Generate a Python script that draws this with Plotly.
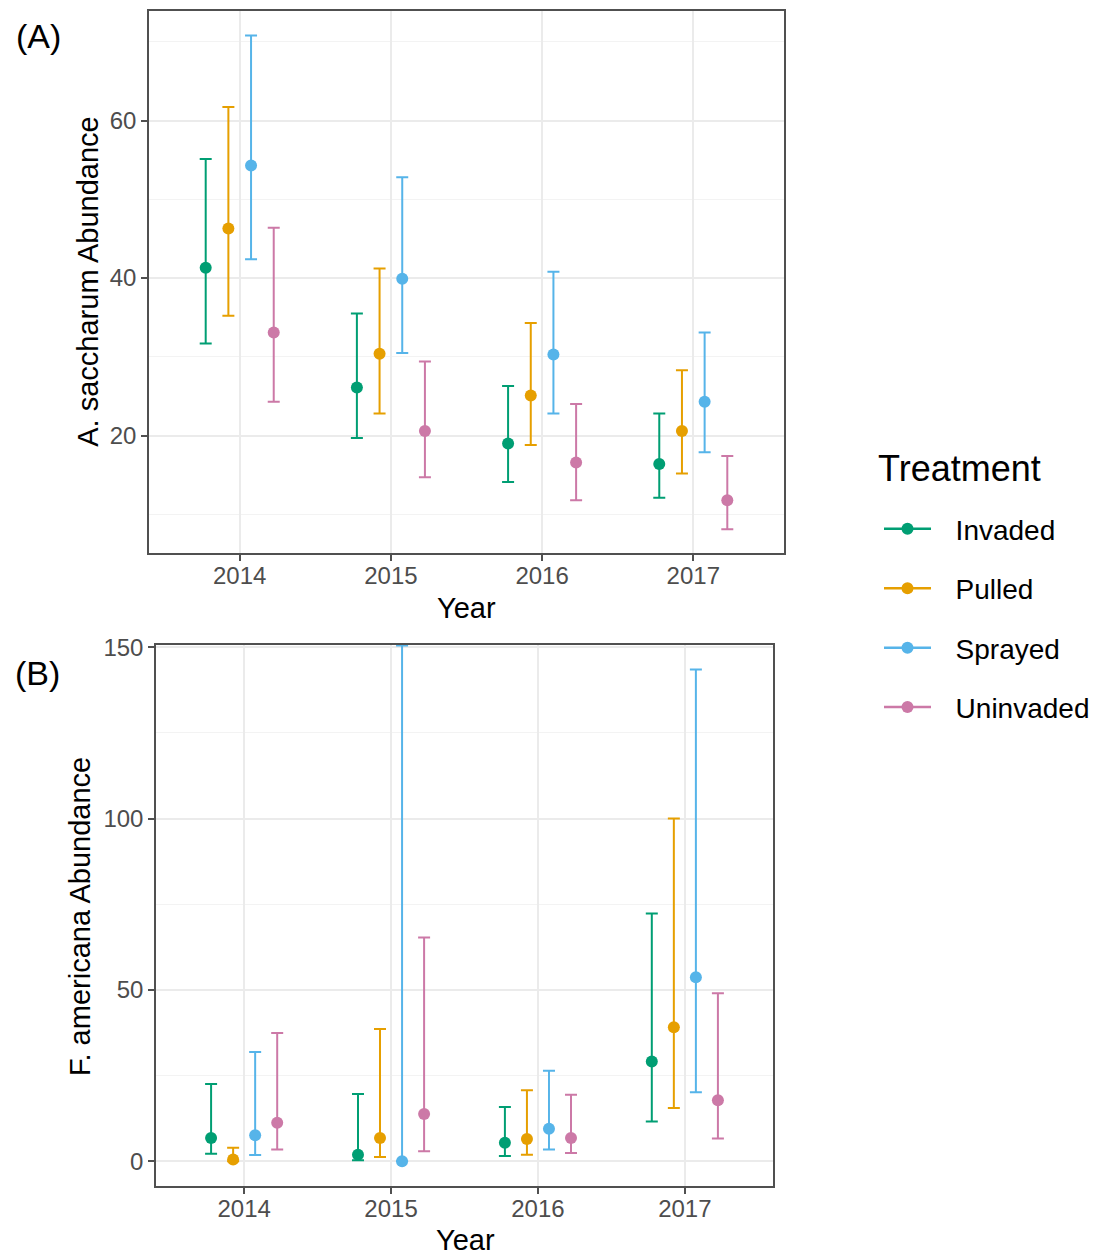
import plotly.graph_objects as go

# ---- data -------------------------------------------------------------
years = [2014, 2015, 2016, 2017]
treatments = ["Invaded", "Pulled", "Sprayed", "Uninvaded"]
colors = {"Invaded": "#009E73", "Pulled": "#E69F00",
          "Sprayed": "#56B4E9", "Uninvaded": "#CC79A7"}

# A. saccharum abundance: mean and interval bounds
acer_mean = {"Invaded": [41.3, 26.1, 19.0, 16.4], "Pulled": [46.3, 30.4, 25.1, 20.6],
             "Sprayed": [54.3, 39.9, 30.3, 24.3], "Uninvaded": [33.1, 20.6, 16.6, 11.8]}
acer_lo = {"Invaded": [31.7, 19.7, 14.1, 12.1], "Pulled": [35.2, 22.8, 18.8, 15.2],
           "Sprayed": [42.4, 30.5, 22.8, 17.9], "Uninvaded": [24.3, 14.7, 11.8, 8.1]}
acer_hi = {"Invaded": [55.1, 35.5, 26.3, 22.8], "Pulled": [61.7, 41.2, 34.3, 28.3],
           "Sprayed": [70.8, 52.8, 40.8, 33.1], "Uninvaded": [46.4, 29.4, 24.0, 17.4]}

# F. americana abundance: mean and interval bounds
frax_mean = {"Invaded": [6.8, 1.9, 5.4, 29.1], "Pulled": [0.5, 6.8, 6.5, 39.1],
             "Sprayed": [7.6, 0.0, 9.5, 53.7], "Uninvaded": [11.2, 13.8, 6.8, 17.8]}
frax_lo = {"Invaded": [2.2, 0.3, 1.5, 11.6], "Pulled": [0.0, 1.2, 1.9, 15.5],
           "Sprayed": [1.8, 0.0, 3.4, 20.1], "Uninvaded": [3.4, 2.9, 2.4, 6.6]}
frax_hi = {"Invaded": [22.5, 19.6, 15.8, 72.3], "Pulled": [3.9, 38.6, 20.7, 100.0],
           "Sprayed": [31.9, 150.5, 26.4, 143.5], "Uninvaded": [37.4, 65.3, 19.4, 49.0]}

# dodge offsets (width 0.6 split over four groups)
dodge = {"Invaded": -0.225, "Pulled": -0.075, "Sprayed": 0.075, "Uninvaded": 0.225}

FONT = "Liberation Sans, Arial, Helvetica, sans-serif"
W, H = 1106, 1258


def px(x):
    return x / W


def py(y):
    # page row -> paper fraction (the page sits ~8px below the top edge)
    yin = max(0.0, (y - 8.5) / 0.994)
    return 1 - yin / H


fig = go.Figure()


def add_panel(mean, lo, hi, xa, ya):
    for t in treatments:
        x = [y + dodge[t] for y in years]
        fig.add_trace(go.Scatter(
            x=x, y=mean[t], xaxis=xa, yaxis=ya, mode="markers",
            marker=dict(color=colors[t], size=12),
            error_y=dict(type="data", symmetric=False,
                         array=[h - m for h, m in zip(hi[t], mean[t])],
                         arrayminus=[m - l for m, l in zip(mean[t], lo[t])],
                         color=colors[t], thickness=2, width=6),
            showlegend=False, hoverinfo="skip"))


add_panel(acer_mean, acer_lo, acer_hi, "x", "y")
add_panel(frax_mean, frax_lo, frax_hi, "x2", "y2")

# legend entries (point + line key); leading spaces separate key and label
for t in treatments:
    fig.add_trace(go.Scatter(
        x=[None], y=[None], mode="lines+markers", name="\u2002\u2009" + t,
        legendgroup=t, line=dict(color=colors[t], width=2.5),
        marker=dict(color=colors[t], size=12)))

grid = "#EBEBEB"
minor_grid = "#F3F3F3"
border = "#505050"
tickfont = dict(family=FONT, size=24, color="#4D4D4D")

xcommon = dict(range=[2013.4, 2017.6], tickvals=years, ticktext=[str(y) for y in years],
               showgrid=True, gridcolor=grid, gridwidth=1.8, zeroline=False,
               showline=True, linecolor=border, linewidth=1.5, mirror=True,
               ticks="outside", ticklen=6, tickcolor=border, tickwidth=1.5,
               tickfont=tickfont, ticklabelstandoff=-6)
ycommon = dict(showgrid=True, gridcolor=grid, gridwidth=1.8, zeroline=False,
               showline=True, linecolor=border, linewidth=1.5, mirror=True,
               ticks="outside", ticklen=6, tickcolor=border, tickwidth=1.5,
               tickfont=tickfont)

fig.update_layout(
    width=W, height=H,
    margin=dict(l=0, r=0, t=0, b=0, pad=0),
    paper_bgcolor="white", plot_bgcolor="white",
    font=dict(family=FONT, color="black"),
    xaxis=dict(domain=[px(149), px(784)], anchor="y", **xcommon),
    yaxis=dict(domain=[py(552), py(7)], anchor="x", range=[5.1, 73.9],
               tickmode="linear", tick0=0, dtick=20,
               minor=dict(dtick=10, tick0=0, showgrid=True, gridcolor=minor_grid,
                          gridwidth=1.4, ticks=""),
               **ycommon),
    xaxis2=dict(domain=[px(156), px(773)], anchor="y2", **xcommon),
    yaxis2=dict(domain=[py(1187), py(644)], anchor="x2", range=[-7.3, 150.7],
                tickmode="linear", tick0=0, dtick=50,
                minor=dict(dtick=25, tick0=0, showgrid=True, gridcolor=minor_grid,
                           gridwidth=1.4, ticks=""),
                **ycommon),
    legend=dict(x=px(879), y=py(503), xanchor="left", yanchor="top",
                font=dict(family=FONT, size=28, color="black"),
                itemwidth=47, tracegroupgap=20, bgcolor="rgba(0,0,0,0)"),
)

titlefont = dict(family=FONT, size=29, color="black")
fig.add_annotation(text="Treatment", x=px(876), y=py(467), xref="paper", yref="paper",
                   showarrow=False, font=dict(family=FONT, size=36, color="black"),
                   xanchor="left", yanchor="middle")
fig.add_annotation(text="Year", x=px(466), y=py(607), xref="paper", yref="paper",
                   showarrow=False, font=titlefont, xanchor="center", yanchor="middle")
fig.add_annotation(text="Year", x=px(465), y=py(1241), xref="paper", yref="paper",
                   showarrow=False, font=titlefont, xanchor="center", yanchor="middle")
fig.add_annotation(text="A. saccharum Abundance", x=px(88), y=py(280),
                   xref="paper", yref="paper", textangle=-90, showarrow=False,
                   font=titlefont, xanchor="center", yanchor="middle")
fig.add_annotation(text="F. americana Abundance", x=px(80), y=py(917),
                   xref="paper", yref="paper", textangle=-90, showarrow=False,
                   font=titlefont, xanchor="center", yanchor="middle")
labelfont = dict(family=FONT, size=34, color="black")
fig.add_annotation(text="(A)", x=px(38), y=py(34), xref="paper", yref="paper",
                   showarrow=False, font=labelfont, xanchor="center", yanchor="middle")
fig.add_annotation(text="(B)", x=px(37), y=py(672), xref="paper", yref="paper",
                   showarrow=False, font=labelfont, xanchor="center", yanchor="middle")

fig.write_html("out.html")
